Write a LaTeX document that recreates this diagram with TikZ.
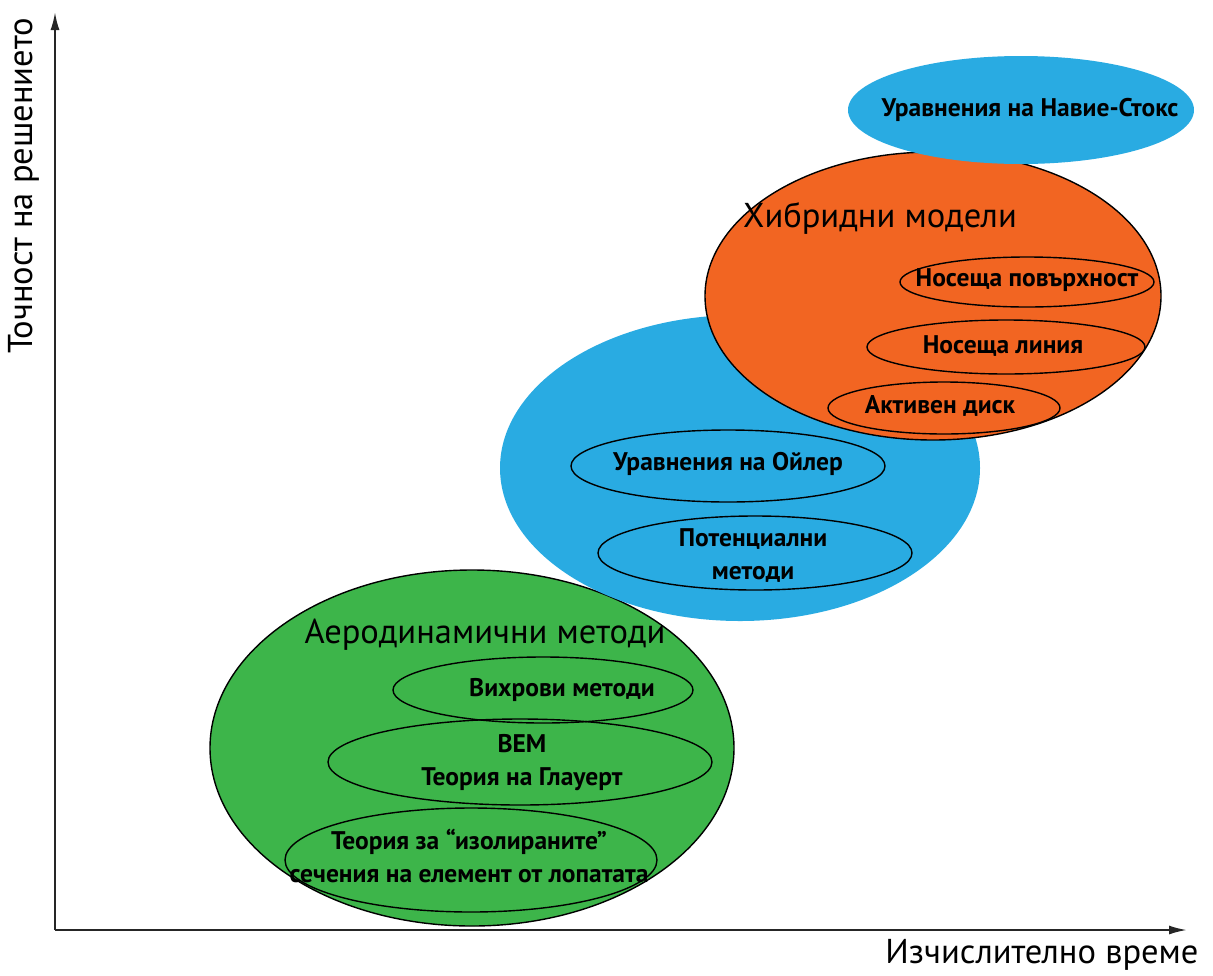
\documentclass[tikz,border=0pt]{standalone}
\usepackage{fontspec}
\setmainfont{PT Sans}
\usepackage{tikz}
\usetikzlibrary{arrows.meta}

\definecolor{aerogreen}{HTML}{3DB54A}
\definecolor{skyblue}{HTML}{29ABE2}
\definecolor{hybridorange}{HTML}{F26522}

\begin{document}
\begin{tikzpicture}[x=1pt, y=-1pt,
	biglabel/.style={font=\fontsize{34.5}{36}\selectfont},
	smalllabel/.style={font=\fontsize{25.5}{33}\selectfont\bfseries, align=center},
	rim/.style={draw=black, line width=1.4pt},
	axis/.style={draw=black!85, line width=2pt, -{Latex[length=18pt, width=9pt]}}]

	\useasboundingbox (0,0) rectangle (1213,975);

	% axes
	\coordinate (origin) at (55,930);
	\coordinate (ytip) at (55,12);
	\coordinate (xtip) at (1187,930);
	\draw[axis] (origin)--(ytip);
	\draw[axis] (origin)--(xtip);
	\node[biglabel, rotate=90] (ylabel) at (24,186) {Точност на решението};
	\node[biglabel, anchor=east] (xlabel) at (1202,955) {Изчислително време};

	% big regions
	\fill[aerogreen] (472,748) ellipse (262 and 178);
	\draw[rim] (472,748) ellipse (262 and 178);
	\fill[skyblue] (740,468) ellipse (240 and 153);
	\fill[hybridorange] (933,296) ellipse (228 and 144);
	\draw[rim] (933,296) ellipse (228 and 144);
	\fill[skyblue] (1021,110) ellipse (173 and 54);

	% navier-stokes
	\node[smalllabel] (navier) at (1030,110) {Уравнения на Навие-Стокс};

	% hybrid models
	\node[biglabel] (hybrid) at (880,218) {Хибридни модели};
	\draw[rim] (1027,282) ellipse (127 and 25);
	\node[smalllabel] (surface) at (1027,280) {Носеща повърхност};
	\draw[rim] (1006,347) ellipse (139 and 27);
	\node[smalllabel] (line) at (1003,346) {Носеща линия};
	\draw[rim] (944,408) ellipse (116 and 26);
	\node[smalllabel] (disk) at (940,406) {Активен диск};

	% euler and potential
	\draw[rim] (728,466) ellipse (157 and 36);
	\node[smalllabel] (euler) at (728,464) {Уравнения на Ойлер};
	\draw[rim] (755,553) ellipse (157 and 37);
	\node[smalllabel] (potential) at (753,556) {Потенциални\\методи};

	% aerodynamic methods
	\node[biglabel] (aero) at (485,635) {Аеродинамични методи};
	\draw[rim] (543,690) ellipse (150 and 33);
	\node[smalllabel] (vortex) at (562,690) {Вихрови методи};
	\draw[rim] (520,762) ellipse (192 and 43);
	\node[smalllabel] (bem) at (522,763) {BEM\\Теория на Глауерт};
	\draw[rim] (471,860) ellipse (186 and 52);
	\node[smalllabel] (blade) at (469,856) {Теория за “изолираните”\\сечения на елемент от лопатата};

\end{tikzpicture}
\end{document}
